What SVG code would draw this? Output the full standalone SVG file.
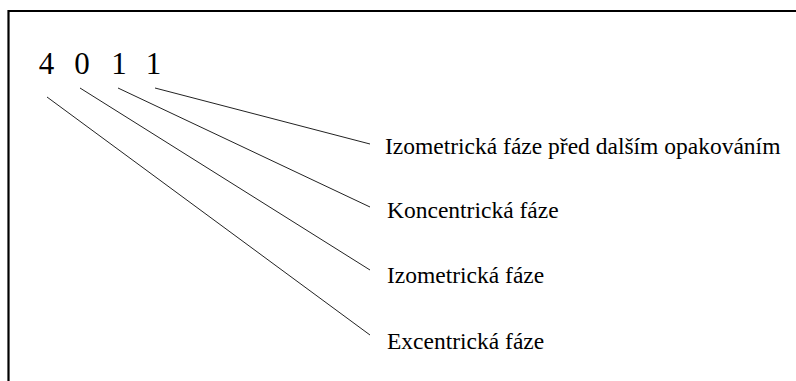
<svg xmlns="http://www.w3.org/2000/svg" width="796" height="381" viewBox="0 0 796 381">
  <style>
    .digit { font-family: "Liberation Serif", "Times New Roman", serif; font-size: 31px; fill: #000; text-anchor: middle; }
    .label { font-family: "Liberation Serif", "Times New Roman", serif; font-size: 23.5px; fill: #000; }
    .lead { stroke: #222; stroke-width: 1; fill: none; }
  </style>
  <rect x="0" y="0" width="796" height="381" fill="#fff"/>
  <!-- frame, open to the right and bottom -->
  <path d="M8.5 381 V11 H796" fill="none" stroke="#000" stroke-width="2.2"/>

  <g id="code">
    <text class="digit" x="46.5" y="74">4</text>
    <text class="digit" x="82" y="74">0</text>
    <text class="digit" x="119" y="74">1</text>
    <text class="digit" x="153.5" y="74">1</text>
  </g>

  <g id="connectors">
    <line class="lead" x1="47" y1="97" x2="370" y2="335"/>
    <line class="lead" x1="80" y1="88" x2="370" y2="270"/>
    <line class="lead" x1="118" y1="88" x2="370" y2="207"/>
    <line class="lead" x1="155" y1="88" x2="370" y2="144"/>
  </g>

  <g id="label-pause"><text class="label" x="385" y="154">Izometrická fáze před dalším opakováním</text></g>
  <g id="label-concentric"><text class="label" x="387" y="218">Koncentrická fáze</text></g>
  <g id="label-isometric"><text class="label" x="387" y="283">Izometrická fáze</text></g>
  <g id="label-eccentric"><text class="label" x="387" y="349">Excentrická fáze</text></g>
</svg>
